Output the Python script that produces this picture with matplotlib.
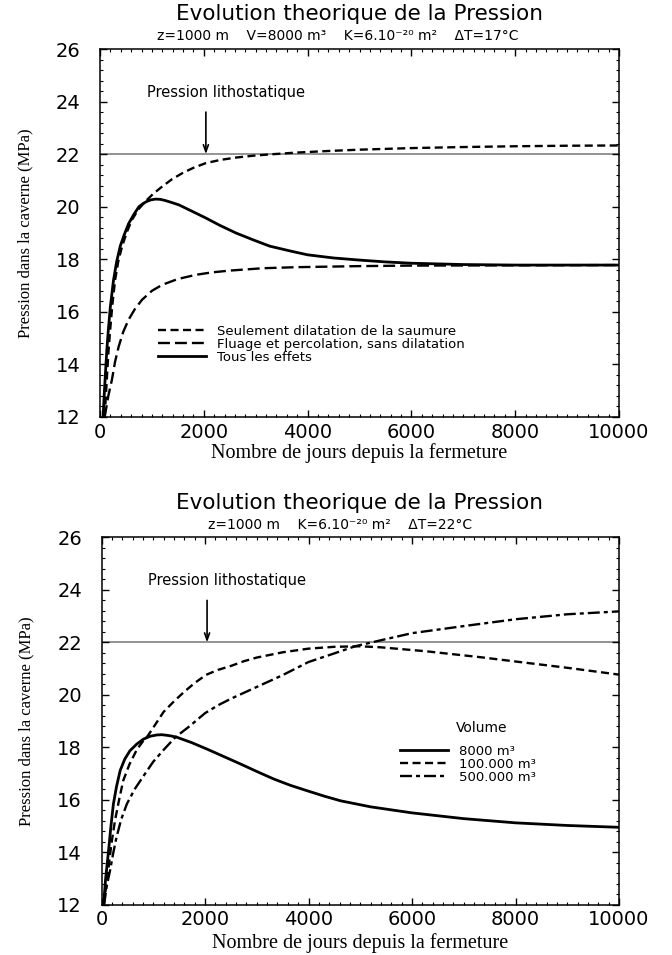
import matplotlib
matplotlib.use('Agg')
import matplotlib.pyplot as plt
from matplotlib.ticker import MultipleLocator

plt.rcParams['font.family'] = ['DejaVu Sans']
plt.rcParams['lines.scale_dashes'] = False

# ---------------- data: top chart (V=8000 m3, dT=17C) ----------------
days_dil = [90, 110, 130, 160, 195, 240, 290, 350, 420, 510, 615, 740, 874, 1030, 1200, 1390,
            1590, 1800, 2040, 2320, 2620, 2950, 3270, 3790, 4400, 5000, 6000, 7000, 8000, 9000, 10000]
p_dil = [12.0, 12.7, 13.4, 14.4, 15.3, 16.3, 17.2, 17.9, 18.45, 19.0, 19.5, 19.9, 20.2, 20.5, 20.77, 21.05,
         21.28, 21.48, 21.66, 21.78, 21.87, 21.94, 21.99, 22.06, 22.12, 22.17, 22.23, 22.27, 22.30, 22.32, 22.33]

days_flu = [90, 160, 230, 290, 360, 450, 550, 670, 810, 1000, 1200, 1500, 1850, 2150, 2500,
            3140, 3790, 5000, 6000, 8000, 10000]
p_flu = [12.0, 12.8, 13.42, 14.1, 14.68, 15.25, 15.7, 16.1, 16.46, 16.8, 17.03, 17.25, 17.41, 17.5, 17.57,
         17.66, 17.70, 17.74, 17.76, 17.77, 17.78]

days_all = [60, 80, 100, 130, 160, 200, 260, 320, 390, 470, 550, 650, 750, 830, 900, 980, 1070,
            1160, 1250, 1380, 1520, 1750, 2040, 2300, 2620, 2950, 3270, 3700, 4000, 4500, 5000,
            5500, 6000, 7000, 8000, 10000]
p_all = [12.0, 12.8, 13.5, 14.5, 15.3, 16.2, 17.2, 17.9, 18.5, 18.95, 19.35, 19.7, 20.0, 20.12, 20.2, 20.26, 20.29,
         20.28, 20.24, 20.16, 20.07, 19.85, 19.57, 19.3, 19.0, 18.74, 18.5, 18.3, 18.17, 18.05, 17.97,
         17.9, 17.85, 17.80, 17.78, 17.78]

# ---------------- data: bottom chart (dT=22C, three volumes) ----------------
days_v1 = [40, 80, 130, 180, 230, 290, 360, 450, 550, 680, 810, 940, 1070, 1160, 1250, 1350, 1460,
           1740, 2040, 2360, 2690, 3010, 3330, 3650, 3980, 4300, 4620, 5200, 6000, 7000, 8000, 9000, 10000]
p_v1 = [12.0, 13.0, 13.93, 14.95, 15.84, 16.5, 17.11, 17.55, 17.87, 18.12, 18.31, 18.42, 18.47, 18.48, 18.46, 18.43, 18.38,
        18.18, 17.93, 17.65, 17.36, 17.07, 16.79, 16.55, 16.34, 16.14, 15.96, 15.73, 15.50, 15.28, 15.12, 15.02, 14.95]

days_v2 = [45, 90, 130, 190, 260, 340, 420, 540, 680, 790, 900, 1050, 1200, 1400, 1590, 1800, 2020,
           2250, 2500, 2750, 3000, 3500, 4000, 4500, 5000, 5400, 6270, 7340, 8000, 9000, 10000]
p_v2 = [12.0, 12.7, 13.3, 14.3, 15.2, 16.0, 16.73, 17.35, 17.9, 18.2, 18.45, 18.9, 19.35, 19.75, 20.1, 20.45, 20.76,
        20.95, 21.1, 21.28, 21.42, 21.62, 21.76, 21.83, 21.85, 21.81, 21.66, 21.43, 21.27, 21.03, 20.77]

days_v3 = [50, 100, 165, 230, 290, 380, 490, 640, 810, 1000, 1200, 1425, 1700, 2000, 2250, 2500,
           3000, 3500, 4000, 4500, 4900, 5400, 6000, 7000, 8000, 9000, 10000]
p_v3 = [12.0, 12.7, 13.3, 14.0, 14.57, 15.25, 15.84, 16.4, 16.9, 17.45, 17.9, 18.38, 18.8, 19.3, 19.6, 19.85,
        20.3, 20.75, 21.25, 21.58, 21.85, 22.08, 22.35, 22.62, 22.88, 23.07, 23.18]

p_litho = 22.0
x_ticks = [0, 2000, 4000, 6000, 8000, 10000]
y_ticks = [12, 14, 16, 18, 20, 22, 24, 26]

title_txt = 'Evolution theorique de la Pression'
sub_top = 'z=1000 m    V=8000 m³    K=6.10⁻²⁰ m²    ΔT=17°C'
sub_bot = 'z=1000 m    K=6.10⁻²⁰ m²    ΔT=22°C'
xlab = 'Nombre de jours depuis la fermeture'
ylab = 'Pression dans la caverne (MPa)'
litho_lab = 'Pression lithostatique'
leg_top = ['Seulement dilatation de la saumure', 'Fluage et percolation, sans dilatation',
           'Tous les effets']
leg_bot = ['8000 m³', '100.000 m³', '500.000 m³']

W, H = 672, 955
SHIFT = 6  # bottom panel raised a little so its x label fits the canvas
fig = plt.figure(figsize=(W / 100, H / 100), dpi=100)
ax1 = fig.add_axes([100 / W, 1 - 417 / H, 519 / W, 368 / H])
ax2 = fig.add_axes([101.5 / W, 1 - (910.7 - SHIFT) / H, 517.5 / W, 367.3 / H])

SHORT = (5.8, 3.2)
LONG = (8.6, 3.6)
DASHDOT = (8.6, 2.9, 2.9, 2.9)


def style(ax, xlab_off):
    ax.set_xlim(0, 10000)
    ax.set_ylim(12, 26)
    ax.set_xticks(x_ticks)
    ax.set_yticks(y_ticks)
    ax.xaxis.set_minor_locator(MultipleLocator(200))
    ax.yaxis.set_minor_locator(MultipleLocator(0.4))
    ax.tick_params(which='both', direction='in', top=True, right=True, labelsize=14)
    ax.tick_params(which='major', length=5, width=1.0)
    ax.tick_params(which='minor', length=2.5, width=0.8)
    ax.tick_params(axis='x', pad=4)
    ax.tick_params(axis='y', pad=14)
    for s in ax.spines.values():
        s.set_linewidth(1.1)
    ax.axhline(p_litho, color='#808080', lw=1.2, zorder=1)
    ax.set_xlabel(xlab, family='Liberation Serif', fontsize=14.5, va='center')
    ax.xaxis.set_label_coords(0.5, -xlab_off / 368)
    ax.set_ylabel(ylab, family='Liberation Serif', fontsize=12, va='center')
    ax.yaxis.set_label_coords(-75 / 519, 0.5)
    ax.annotate('', xy=(2040, p_litho), xytext=(2040, 23.6),
                arrowprops=dict(arrowstyle='->,head_length=0.5,head_width=0.18',
                                color='black', lw=1.2, shrinkA=0, shrinkB=0))
    ax.text(2430, 24.36, litho_lab, ha='center', va='center', fontsize=10.5)


style(ax1, 36)
style(ax2, 38.3)

# top chart curves
ax1.plot(days_dil, p_dil, color='black', lw=1.7, dashes=SHORT, label=leg_top[0])
ax1.plot(days_flu, p_flu, color='black', lw=1.7, dashes=LONG, label=leg_top[1])
ax1.plot(days_all, p_all, color='black', lw=2.0, label=leg_top[2])
ax1.legend(loc='upper left', bbox_to_anchor=(58 / 519, (417 - 325) / 368), frameon=False,
           fontsize=9.5, handlelength=3.6, handletextpad=0.9, labelspacing=0.0,
           borderpad=0, borderaxespad=0)

# bottom chart curves
ax2.plot(days_v1, p_v1, color='black', lw=2.0, label=leg_bot[0])
ax2.plot(days_v2, p_v2, color='black', lw=1.7, dashes=SHORT, label=leg_bot[1])
ax2.plot(days_v3, p_v3, color='black', lw=1.7, dashes=DASHDOT, label=leg_bot[2])
ax2.legend(loc='upper left', bbox_to_anchor=(0.577, 0.4348), frameon=False,
           fontsize=9.5, handlelength=3.6, handletextpad=0.9, labelspacing=0.0,
           borderpad=0, borderaxespad=0)
ax2.text(7345, 18.73, 'Volume', ha='center', va='center', fontsize=10)

# titles
fig.text(360 / W, 1 - 14 / H, title_txt, ha='center', va='center', fontsize=15.5)
fig.text(338 / W, 1 - 36 / H, sub_top, ha='center', va='center', fontsize=10)
fig.text(360 / W, 1 - (509 - SHIFT) / H, title_txt, ha='center', va='center', fontsize=15.5)
fig.text(340 / W, 1 - (531 - SHIFT) / H, sub_bot, ha='center', va='center', fontsize=10)

fig.savefig('out.png', dpi=100)
